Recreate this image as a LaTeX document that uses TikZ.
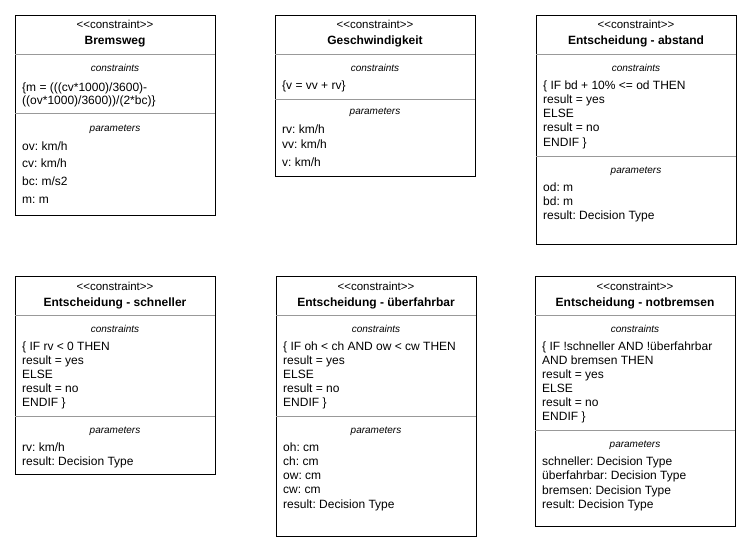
\documentclass[tikz,border=0pt]{standalone}
\usepackage{fontspec}
\setmainfont{Liberation Sans}
\frenchspacing
\newcommand\stereotxt{<\kern0pt<constraint>\kern0pt>}
\begin{document}
\frenchspacing
\begin{tikzpicture}[x=1pt,y=-1pt,
  umlbox/.style={draw=black, line width=1pt, fill=white, inner sep=0, anchor=north west},
  divider/.style={draw=black!40, line width=0.9pt},
  stereo/.style={font=\fontsize{11.5}{13}\selectfont, anchor=base, inner sep=0},
  title/.style={font=\bfseries\fontsize{12}{14}\selectfont, anchor=base, inner sep=0},
  sect/.style={font=\itshape\fontsize{10}{12}\selectfont, anchor=base, inner sep=0},
  txt/.style={font=\fontsize{12}{14}\selectfont, anchor=base west, inner sep=0}]
\useasboundingbox[fill=white] (0,0) rectangle (751,551);

% ---------- Box 1: Bremsweg ----------
\node[umlbox, minimum width=200, minimum height=200] (b1) at (15,15) {};
\draw[divider] (15,54) -- (215,54);
\draw[divider] (15,113) -- (215,113);
\node[stereo] (b1s) at (115,29) {\stereotxt};
\node[title] (b1t) at (115,45) {Bremsweg};
\node[sect] (b1c) at (115,71) {constraints};
\node[txt] (b1c1) at (22,91) {\{m = (((cv*1000)/3600)-};
\node[txt] (b1c2) at (22,104.5) {((ov*1000)/3600))/(2*bc)\}};
\node[sect] (b1p) at (115,131) {parameters};
\node[txt] (b1p1) at (22,150) {ov: km/h};
\node[txt] (b1p2) at (22,167.5) {cv: km/h};
\node[txt] (b1p3) at (22,185) {bc: m/s2};
\node[txt] (b1p4) at (22,203) {m: m};

% ---------- Box 2: Geschwindigkeit ----------
\node[umlbox, minimum width=200, minimum height=161] (b2) at (275,15) {};
\draw[divider] (275,54) -- (475,54);
\draw[divider] (275,99) -- (475,99);
\node[stereo] (b2s) at (375,29) {\stereotxt};
\node[title] (b2t) at (375,45) {Geschwindigkeit};
\node[sect] (b2c) at (375,71) {constraints};
\node[txt] (b2c1) at (282,89.5) {\{v = vv + rv\}};
\node[sect] (b2p) at (375,114) {parameters};
\node[txt] (b2p1) at (282,133) {rv: km/h};
\node[txt] (b2p2) at (282,148.5) {vv: km/h};
\node[txt] (b2p3) at (282,166.5) {v: km/h};

% ---------- Box 3: Entscheidung - abstand ----------
\node[umlbox, minimum width=200, minimum height=229] (b3) at (536,15) {};
\draw[divider] (536,54) -- (736,54);
\draw[divider] (536,156) -- (736,156);
\node[stereo] (b3s) at (636,29) {\stereotxt};
\node[title] (b3t) at (636,45) {Entscheidung - abstand};
\node[sect] (b3c) at (636,71) {constraints};
\node[txt] (b3c1) at (543,89.5) {\{ IF bd + 10\% <= od THEN};
\node[txt] (b3c2) at (543,103.5) {result = yes};
\node[txt] (b3c3) at (543,117.5) {ELSE};
\node[txt] (b3c4) at (543,131.5) {result = no};
\node[txt] (b3c5) at (543,146) {ENDIF \}};
\node[sect] (b3p) at (636,173) {parameters};
\node[txt] (b3p1) at (543,191.5) {od: m};
\node[txt] (b3p2) at (543,205.5) {bd: m};
\node[txt] (b3p3) at (543,219.5) {result: Decision Type};

% ---------- Box 4: Entscheidung - schneller ----------
\node[umlbox, minimum width=200, minimum height=198] (b4) at (15,276) {};
\draw[divider] (15,315) -- (215,315);
\draw[divider] (15,416) -- (215,416);
\node[stereo] (b4s) at (115,290) {\stereotxt};
\node[title] (b4t) at (115,306) {Entscheidung - schneller};
\node[sect] (b4c) at (115,332) {constraints};
\node[txt] (b4c1) at (22,350.5) {\{ IF rv < 0 THEN};
\node[txt] (b4c2) at (22,364.5) {result = yes};
\node[txt] (b4c3) at (22,378.5) {ELSE};
\node[txt] (b4c4) at (22,392.5) {result = no};
\node[txt] (b4c5) at (22,406.5) {ENDIF \}};
\node[sect] (b4p) at (115,433) {parameters};
\node[txt] (b4p1) at (22,451.5) {rv: km/h};
\node[txt] (b4p2) at (22,465.5) {result: Decision Type};

% ---------- Box 5: Entscheidung - überfahrbar ----------
\node[umlbox, minimum width=200, minimum height=260] (b5) at (276,276) {};
\draw[divider] (276,315) -- (476,315);
\draw[divider] (276,416) -- (476,416);
\node[stereo] (b5s) at (376,290) {\stereotxt};
\node[title] (b5t) at (376,306) {Entscheidung - überfahrbar};
\node[sect] (b5c) at (376,332) {constraints};
\node[txt] (b5c1) at (283,350.5) {\{ IF oh < ch AND ow < cw THEN};
\node[txt] (b5c2) at (283,364.5) {result = yes};
\node[txt] (b5c3) at (283,378.5) {ELSE};
\node[txt] (b5c4) at (283,392.5) {result = no};
\node[txt] (b5c5) at (283,406.5) {ENDIF \}};
\node[sect] (b5p) at (376,433) {parameters};
\node[txt] (b5p1) at (283,451.5) {oh: cm};
\node[txt] (b5p2) at (283,465.5) {ch: cm};
\node[txt] (b5p3) at (283,479.5) {ow: cm};
\node[txt] (b5p4) at (283,493.5) {cw: cm};
\node[txt] (b5p5) at (283,508) {result: Decision Type};

% ---------- Box 6: Entscheidung - notbremsen ----------
\node[umlbox, minimum width=200, minimum height=250] (b6) at (535,276) {};
\draw[divider] (535,315) -- (735,315);
\draw[divider] (535,430) -- (735,430);
\node[stereo] (b6s) at (635,290) {\stereotxt};
\node[title] (b6t) at (635,306) {Entscheidung - notbremsen};
\node[sect] (b6c) at (635,332) {constraints};
\node[txt] (b6c1) at (542,350.5) {\{ IF !schneller AND !überfahrbar};
\node[txt] (b6c2) at (542,364) {AND bremsen THEN};
\node[txt] (b6c3) at (542,378.5) {result = yes};
\node[txt] (b6c4) at (542,392.5) {ELSE};
\node[txt] (b6c5) at (542,406.5) {result = no};
\node[txt] (b6c6) at (542,420.5) {ENDIF \}};
\node[sect] (b6p) at (635,447) {parameters};
\node[txt] (b6p1) at (542,465.5) {schneller: Decision Type};
\node[txt] (b6p2) at (542,479.5) {überfahrbar: Decision Type};
\node[txt] (b6p3) at (542,494) {bremsen: Decision Type};
\node[txt] (b6p4) at (542,508) {result: Decision Type};
\end{tikzpicture}
\end{document}
